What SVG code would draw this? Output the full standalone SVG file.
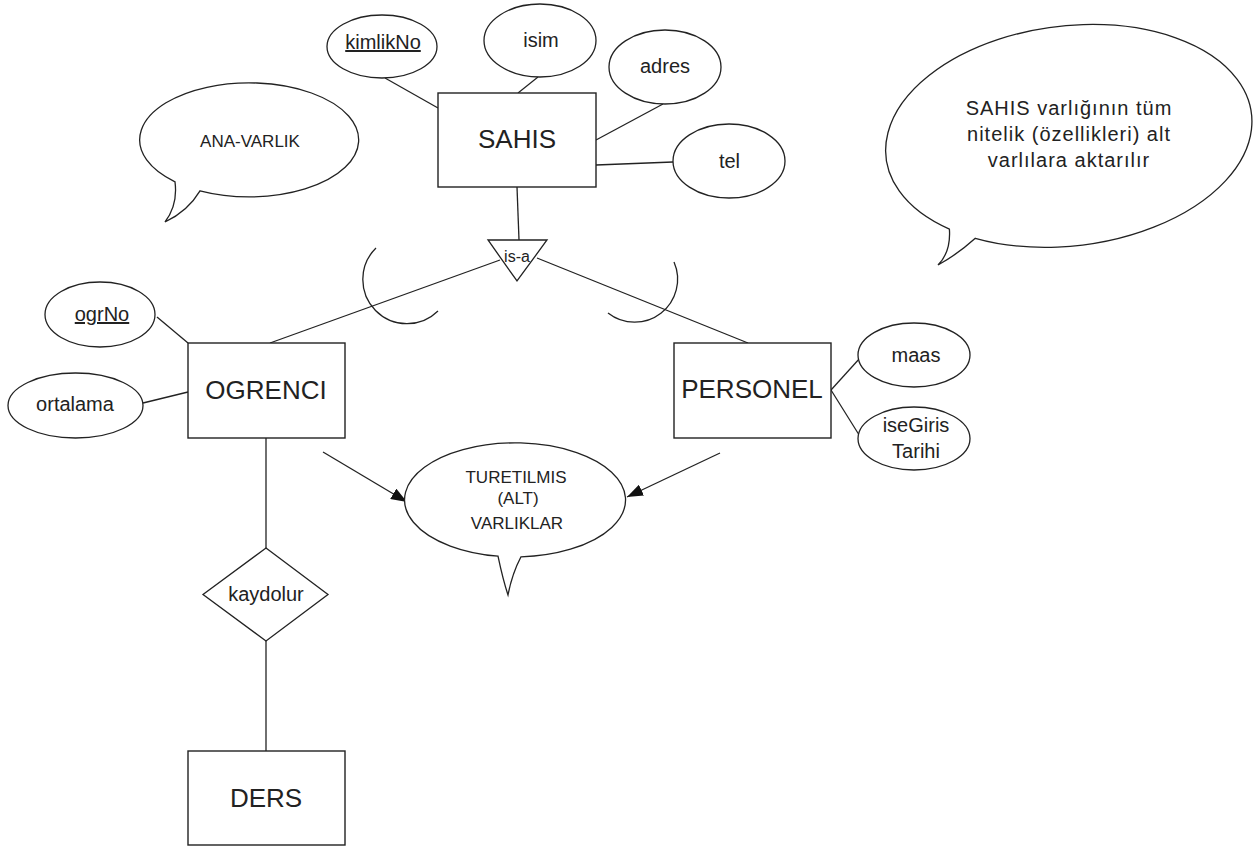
<svg xmlns="http://www.w3.org/2000/svg" width="1258" height="850" viewBox="0 0 1258 850">
<defs>
<style>
.ent{fill:#fff;stroke:#222;stroke-width:1.4}
.att{fill:#fff;stroke:#222;stroke-width:1.3}
.ln{fill:none;stroke:#222;stroke-width:1.3}
.bub{fill:#fff;stroke:#222;stroke-width:1.3}
text{font-family:"Liberation Sans",Arial,sans-serif;fill:#222;text-anchor:middle}
.et{font-size:26px}
.at{font-size:20px}
.bt{font-size:17px}
.u{text-decoration:underline}
</style>
<marker id="ah" viewBox="0 0 16 12" refX="16" refY="6" markerWidth="16" markerHeight="12" markerUnits="userSpaceOnUse" orient="auto">
<path d="M0,0 L16,6 L0,12 Z" fill="#111"/>
</marker>
</defs>
<rect width="1258" height="850" fill="#fff"/>

<g id="connectors">
<line class="ln" x1="385" y1="78" x2="438" y2="108"/>
<line class="ln" x1="538" y1="77" x2="518" y2="93"/>
<line class="ln" x1="663" y1="104" x2="596" y2="140"/>
<line class="ln" x1="596" y1="165" x2="673" y2="162"/>
<line class="ln" x1="517" y1="187" x2="519" y2="240"/>
<line class="ln" x1="500" y1="260" x2="270" y2="343"/>
<line class="ln" x1="537" y1="258" x2="748" y2="343"/>
<path class="ln" d="M376,248 A44,44 0 0 0 438,311"/>
<path class="ln" d="M674,262 A43,43 0 0 1 608,313"/>
<line class="ln" x1="157" y1="317" x2="188" y2="343"/>
<line class="ln" x1="143" y1="403" x2="188" y2="392"/>
<line class="ln" x1="266" y1="438" x2="266" y2="548"/>
<line class="ln" x1="266" y1="641" x2="266" y2="751"/>
<line class="ln" x1="831" y1="390" x2="860" y2="358"/>
<line class="ln" x1="831" y1="390" x2="861" y2="438"/>
<line class="ln" x1="323" y1="452" x2="407" y2="502" marker-end="url(#ah)"/>
<line class="ln" x1="720" y1="453" x2="627" y2="497" marker-end="url(#ah)"/>
</g>

<g id="SAHIS">
<rect class="ent" x="438" y="93" width="158" height="94"/>
<text class="et" x="517" y="148">SAHIS</text>
</g>
<g id="kimlikNo">
<ellipse class="att" cx="382" cy="46.5" rx="55" ry="31.5"/>
<text class="at u" x="383" y="49" font-size="19">kimlikNo</text>
</g>
<g id="isim">
<ellipse class="att" cx="540" cy="40.5" rx="56" ry="36.5"/>
<text class="at" x="541" y="47">isim</text>
</g>
<g id="adres">
<ellipse class="att" cx="665" cy="67" rx="56" ry="37"/>
<text class="at" x="665" y="73">adres</text>
</g>
<g id="tel">
<ellipse class="att" cx="729" cy="161" rx="56" ry="37"/>
<text class="at" x="729.5" y="168">tel</text>
</g>
<g id="is-a">
<polygon class="att" points="488,240 547,240 517,281"/>
<text x="517" y="262" font-size="16">is-a</text>
</g>
<g id="OGRENCI">
<rect class="ent" x="188" y="343" width="157" height="95"/>
<text class="et" x="266" y="399">OGRENCI</text>
</g>
<g id="ogrNo">
<ellipse class="att" cx="100" cy="314.5" rx="55" ry="32.5"/>
<text class="at u" x="102" y="321">ogrNo</text>
</g>
<g id="ortalama">
<ellipse class="att" cx="75.5" cy="405.5" rx="67.5" ry="32.5"/>
<text class="at" x="75" y="411">ortalama</text>
</g>
<g id="PERSONEL">
<rect class="ent" x="674" y="343" width="157" height="95"/>
<text class="et" x="752" y="398">PERSONEL</text>
</g>
<g id="maas">
<ellipse class="att" cx="914" cy="355" rx="56" ry="32"/>
<text class="at" x="916" y="362">maas</text>
</g>
<g id="iseGiris">
<ellipse class="att" cx="914" cy="438.5" rx="56" ry="31.5"/>
<text class="at" x="916" y="432">iseGiris</text>
<text class="at" x="916" y="458">Tarihi</text>
</g>
<g id="kaydolur">
<polygon class="att" points="266,548 328,594.5 266,641 203,594.5"/>
<text class="at" x="266" y="601">kaydolur</text>
</g>
<g id="DERS">
<rect class="ent" x="188" y="751" width="157" height="94"/>
<text class="et" x="266" y="807">DERS</text>
</g>

<g id="ana-varlik-note">
<path class="bub" d="M200,190.8 A109.5,57 0 1 0 175,181.8 Q178,205 165,222 Q188,211 200,190.8 Z"/>
<text class="bt" x="250" y="147">ANA-VARLIK</text>
</g>
<g id="turetilmis-note">
<path class="bub" d="M521,556.8 A110.5,57 0 1 0 498,556.2 Q503,580 508,595 Q512,574 521,556.8 Z"/>
<text class="bt" x="516" y="483">TURETILMIS</text>
<text class="bt" x="518" y="504">(ALT)</text>
<text class="bt" x="517" y="529">VARLIKLAR</text>
</g>
<g id="sahis-note">
<path class="bub" d="M975.3,238.3 A184,110 -7 1 0 949.4,229.1 Q951,252 938,265 Q958,254 975.3,238.3 Z"/>
<text x="1069" y="115" font-size="20" letter-spacing="1">SAHIS varlığının tüm</text>
<text x="1069" y="141" font-size="20" letter-spacing="1">nitelik (özellikleri) alt</text>
<text x="1069" y="167" font-size="20" letter-spacing="1">varlılara aktarılır</text>
</g>
</svg>
